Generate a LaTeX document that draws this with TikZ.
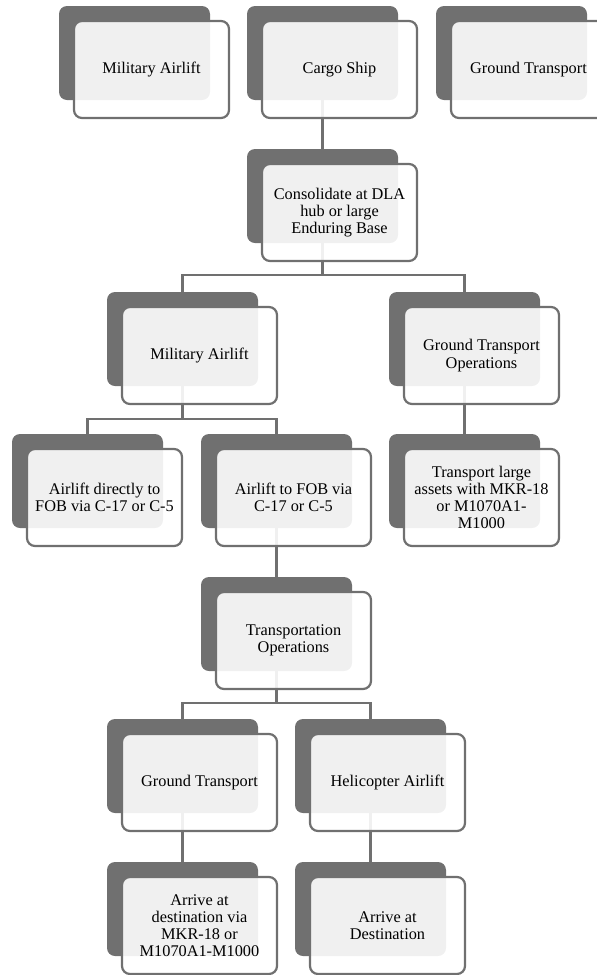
\documentclass[tikz,border=0pt]{standalone}
\usepackage{fontspec}
\setmainfont{Liberation Serif}
\definecolor{smartgray}{HTML}{707070}
\begin{document}
\begin{tikzpicture}[x=1pt, y=-1pt,
		back/.style={fill=smartgray, rounded corners=8pt, minimum width=151pt, minimum height=94pt, inner sep=0pt},
		front/.style={draw=smartgray, line width=2.2pt, fill=white, fill opacity=0.9, text opacity=1, rounded corners=8pt, minimum width=155pt, minimum height=97pt, inner sep=0pt, align=center, font=\fontsize{16.3}{17.2}\selectfont},
		link/.style={draw=smartgray, line width=2.2pt}]
	\path[use as bounding box, clip] (0,0) rectangle (597,975);
		% dark plates
		\node [back] (airliftbk) at (134.5, 53) {};
		\node [back] (shipbk) at (322.5, 53) {};
		\node [back] (groundbk) at (511.5, 53) {};
		\node [back] (consbk) at (322.5, 196) {};
		\node [back] (milairbk) at (182.5, 339) {};
		\node [back] (gtobk) at (464.5, 339) {};
		\node [back] (directbk) at (87.5, 481) {};
		\node [back] (fobbk) at (276.5, 481) {};
		\node [back] (largebk) at (464.5, 481) {};
		\node [back] (transbk) at (276.5, 624) {};
		\node [back] (gtbk) at (182.5, 766) {};
		\node [back] (helibk) at (370.5, 766) {};
		\node [back] (arrgtbk) at (182.5, 909) {};
		\node [back] (arrhelibk) at (370.5, 909) {};
		% connectors
		\draw [link] (shipbk.south) to (consbk.north);
		\draw [link] (consbk.south) -- ++(0, 32) -| (milairbk.north);
		\draw [link] (consbk.south) ++(0, 32) -| (gtobk.north);
		\draw [link] (milairbk.south) -- ++(0, 33) -| (directbk.north);
		\draw [link] (milairbk.south) ++(0, 33) -| (fobbk.north);
		\draw [link] (gtobk.south) to (largebk.north);
		\draw [link] (fobbk.south) to (transbk.north);
		\draw [link] (transbk.south) -- ++(0, 32) -| (gtbk.north);
		\draw [link] (transbk.south) ++(0, 32) -| (helibk.north);
		\draw [link] (gtbk.south) to (arrgtbk.north);
		\draw [link] (helibk.south) to (arrhelibk.north);
		% front boxes
		\node [front] (airlift) at (151.5, 69.5) {Military Airlift};
		\node [front] (ship) at (339.5, 69.5) {Cargo Ship};
		\node [front] (ground) at (528.5, 69.5) {Ground Transport};
		\node [front] (cons) at (339.5, 212.5) {Consolidate at DLA\\hub or large\\Enduring Base};
		\node [front] (milair) at (199.5, 355.5) {Military Airlift};
		\node [front] (gto) at (481.5, 355.5) {Ground Transport\\Operations};
		\node [front] (direct) at (104.5, 497.5) {Airlift directly to\\FOB via C-17 or C-5};
		\node [front] (fob) at (293.5, 497.5) {Airlift to FOB via\\C-17 or C-5};
		\node [front] (large) at (481.5, 497.5) {Transport large\\assets with MKR-18\\or M1070A1-\\M1000};
		\node [front] (trans) at (293.5, 640.5) {Transportation\\Operations};
		\node [front] (gt) at (199.5, 782.5) {Ground Transport};
		\node [front] (heli) at (387.5, 782.5) {Helicopter Airlift};
		\node [front] (arrgt) at (199.5, 925.5) {Arrive at\\destination via\\MKR-18 or\\M1070A1-M1000};
		\node [front] (arrheli) at (387.5, 925.5) {Arrive at\\Destination};
\end{tikzpicture}
\end{document}
